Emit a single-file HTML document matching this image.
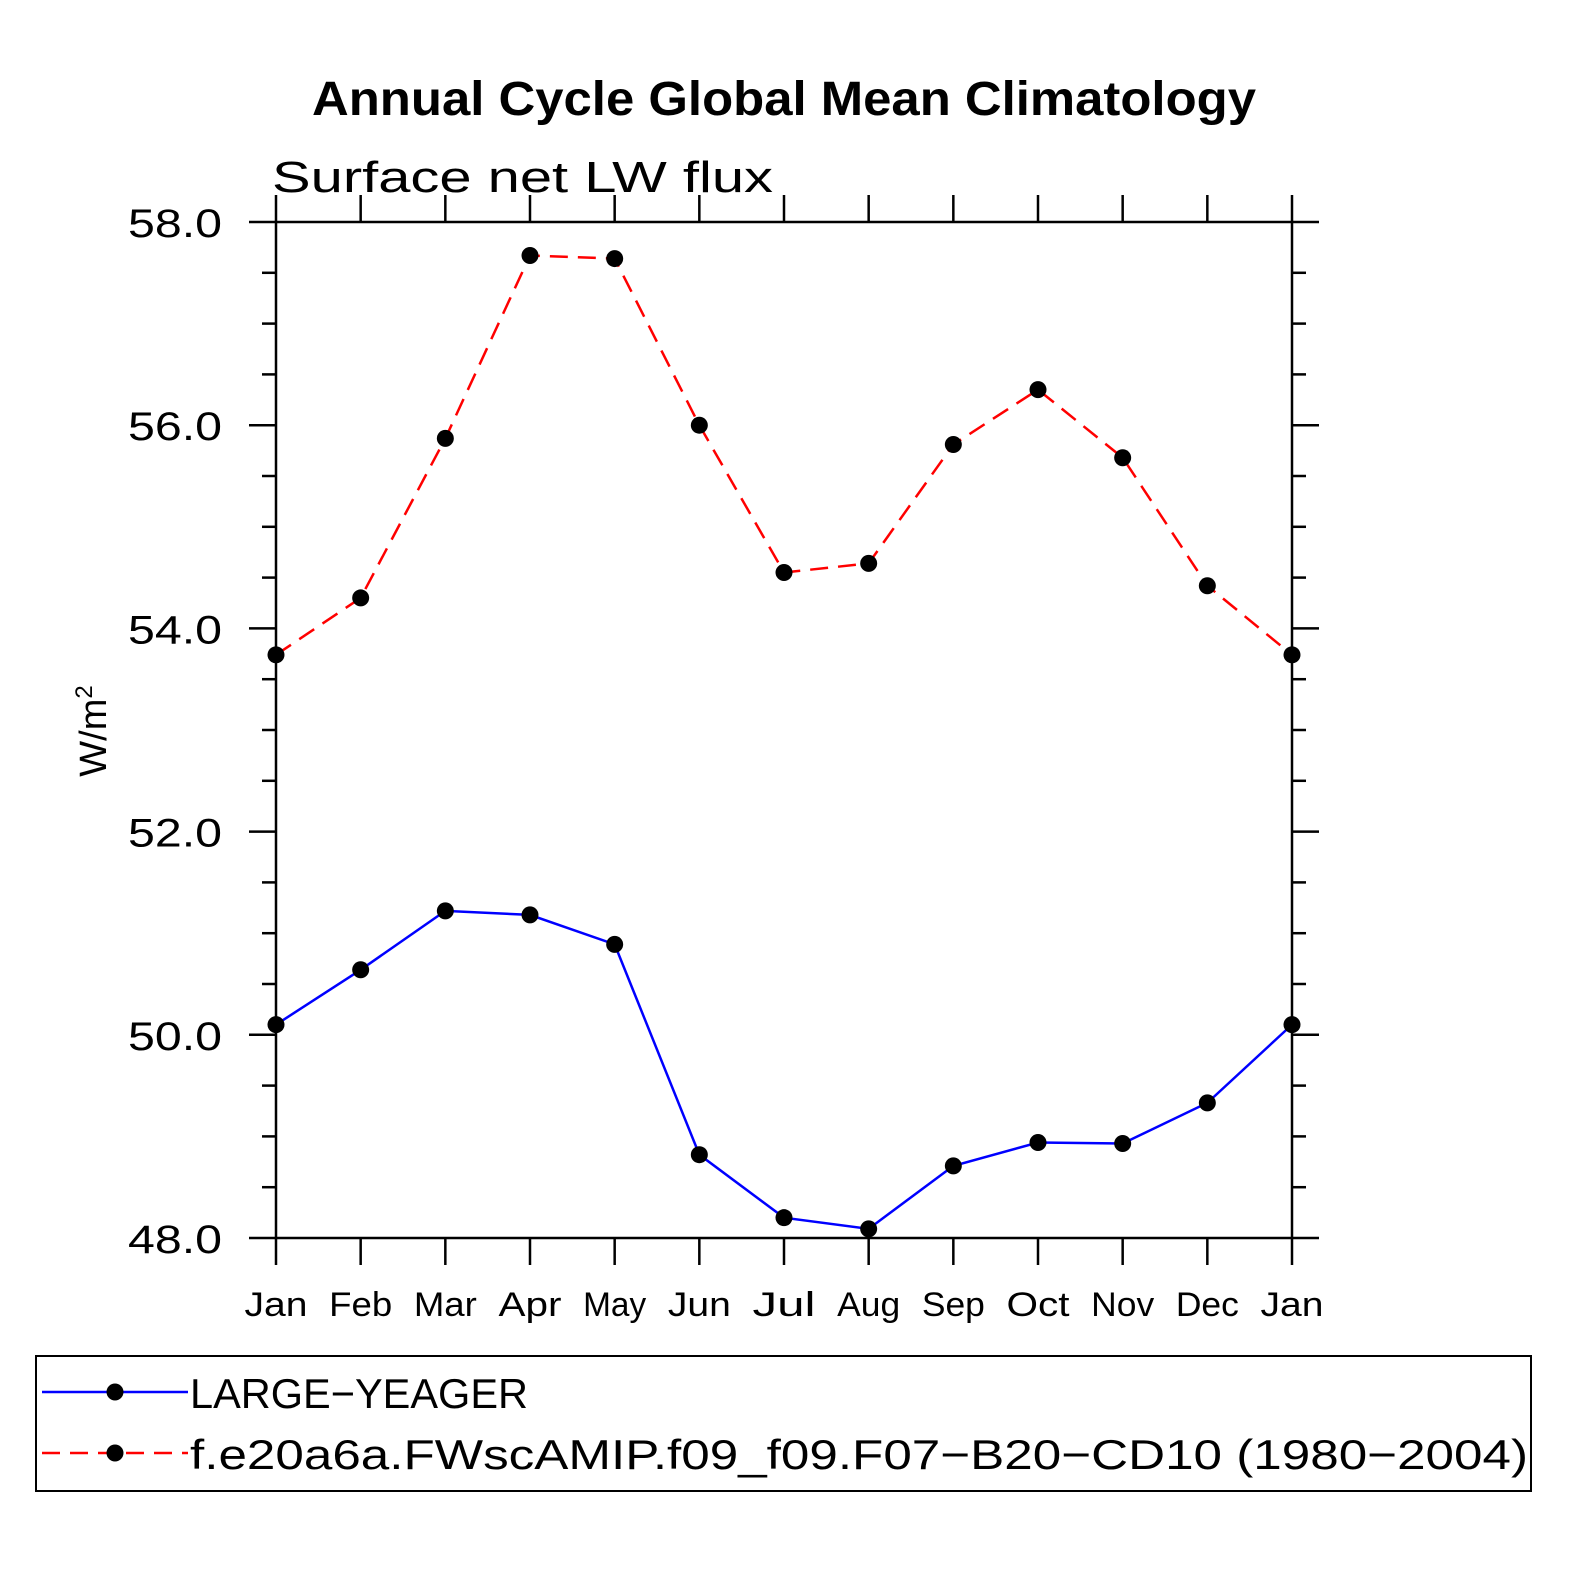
<!DOCTYPE html>
<html><head><meta charset="utf-8"><style>body{margin:0;background:#fff}svg{display:block}text{font-family:"Liberation Sans",sans-serif}</style></head>
<body>
<svg id="chart" width="1574" height="1574" viewBox="0 0 1574 1574">
<text x="312" y="115" font-size="48" font-weight="bold" textLength="944" lengthAdjust="spacingAndGlyphs">Annual Cycle Global Mean Climatology</text>
<text x="272" y="192" font-size="44" textLength="501" lengthAdjust="spacingAndGlyphs">Surface net LW flux</text>
<text transform="translate(106,731) rotate(-90)" text-anchor="middle" font-size="38">W/m<tspan dy="-14" font-size="24">2</tspan></text>
<rect x="276" y="222" width="1016" height="1016" fill="none" stroke="#000" stroke-width="2.5"/>
<g id="axes"></g>
<g id="series"></g>
<rect x="36" y="1356" width="1495" height="135" fill="none" stroke="#000" stroke-width="2"/>
<g>
<line x1="42" y1="1392" x2="188" y2="1392" stroke="#0000ff" stroke-width="2.5"/>
<circle cx="115" cy="1392" r="8.5"/>
<text x="190" y="1408" font-size="42" textLength="338" lengthAdjust="spacingAndGlyphs">LARGE−YEAGER</text></g>
<g>
<line x1="42" y1="1453" x2="188" y2="1453" stroke="#ff0000" stroke-width="2.5" stroke-dasharray="18,10"/>
<circle cx="115" cy="1453" r="8.5"/>
<text x="190" y="1469" font-size="42" textLength="1338" lengthAdjust="spacingAndGlyphs">f.e20a6a.FWscAMIP.f09_f09.F07−B20−CD10 (1980−2004)</text></g>
</svg>
<script>
const months=["Jan","Feb","Mar","Apr","May","Jun","Jul","Aug","Sep","Oct","Nov","Dec","Jan"];
const obsValues=[50.10,50.64,51.22,51.18,50.89,48.82,48.20,48.09,48.71,48.94,48.93,49.33,50.10];
const modelValues=[53.74,54.30,55.87,57.67,57.64,56.00,54.55,54.64,55.81,56.35,55.68,54.42,53.74];
const yTicks=[48,50,52,54,56,58];
const NS="http://www.w3.org/2000/svg";
const X0=276,X1=1292,Y0=1238,Y1=222,YMIN=48,YMAX=58;
function xs(i){return X0+(X1-X0)*i/(months.length-1);}
function ys(v){return Y0-(v-YMIN)/(YMAX-YMIN)*(Y0-Y1);}
function mk(t,a,p){const e=document.createElementNS(NS,t);for(const k in a)e.setAttribute(k,a[k]);p.appendChild(e);return e;}
const ax=document.getElementById('axes');
for(let v=YMIN;v<=YMAX+1e-9;v+=0.5){
  const major=Math.abs(v/2-Math.round(v/2))<1e-6;const L=major?27:14;const y=ys(v);
  const t1=mk('line',{x1:X0-L,x2:X0,y1:y,y2:y,stroke:'#000','stroke-width':2.5},ax);
  
  
  const t2=mk('line',{x1:X1,x2:X1+L,y1:y,y2:y,stroke:'#000','stroke-width':2.5},ax);
  
  
}
yTicks.forEach(v=>{const t=mk('text',{x:222,y:ys(v)+15,'text-anchor':'end','font-size':40,textLength:94,lengthAdjust:'spacingAndGlyphs'},ax);t.textContent=v.toFixed(1);
  
  });
months.forEach((m,i)=>{const x=xs(i);
  const a=mk('line',{x1:x,x2:x,y1:Y0,y2:Y0+27,stroke:'#000','stroke-width':2.5},ax);
  
  
  const b=mk('line',{x1:x,x2:x,y1:Y1-27,y2:Y1,stroke:'#000','stroke-width':2.5},ax);
  
  
  const w=m.length*21;
  const t=mk('text',{x:x-w/2,y:1316,'font-size':34,textLength:w,lengthAdjust:'spacingAndGlyphs'},ax);t.textContent=m;
  
  });
const sg=document.getElementById('series');
function draw(vals,color,dash,name){
  const pts=vals.map((v,i)=>xs(i)+','+ys(v)).join(' ');
  const pl=mk('polyline',{points:pts,fill:'none',stroke:color,'stroke-width':2.5,'stroke-dasharray':dash},sg);
  
  
  vals.forEach((v,i)=>{const c=mk('circle',{cx:xs(i),cy:ys(v),r:8.5,fill:'#000'},sg);
    
    });
}
draw(modelValues,'#ff0000','18,10','model-series');
draw(obsValues,'#0000ff','none','large-yeager-series');
</script>
</body></html>
